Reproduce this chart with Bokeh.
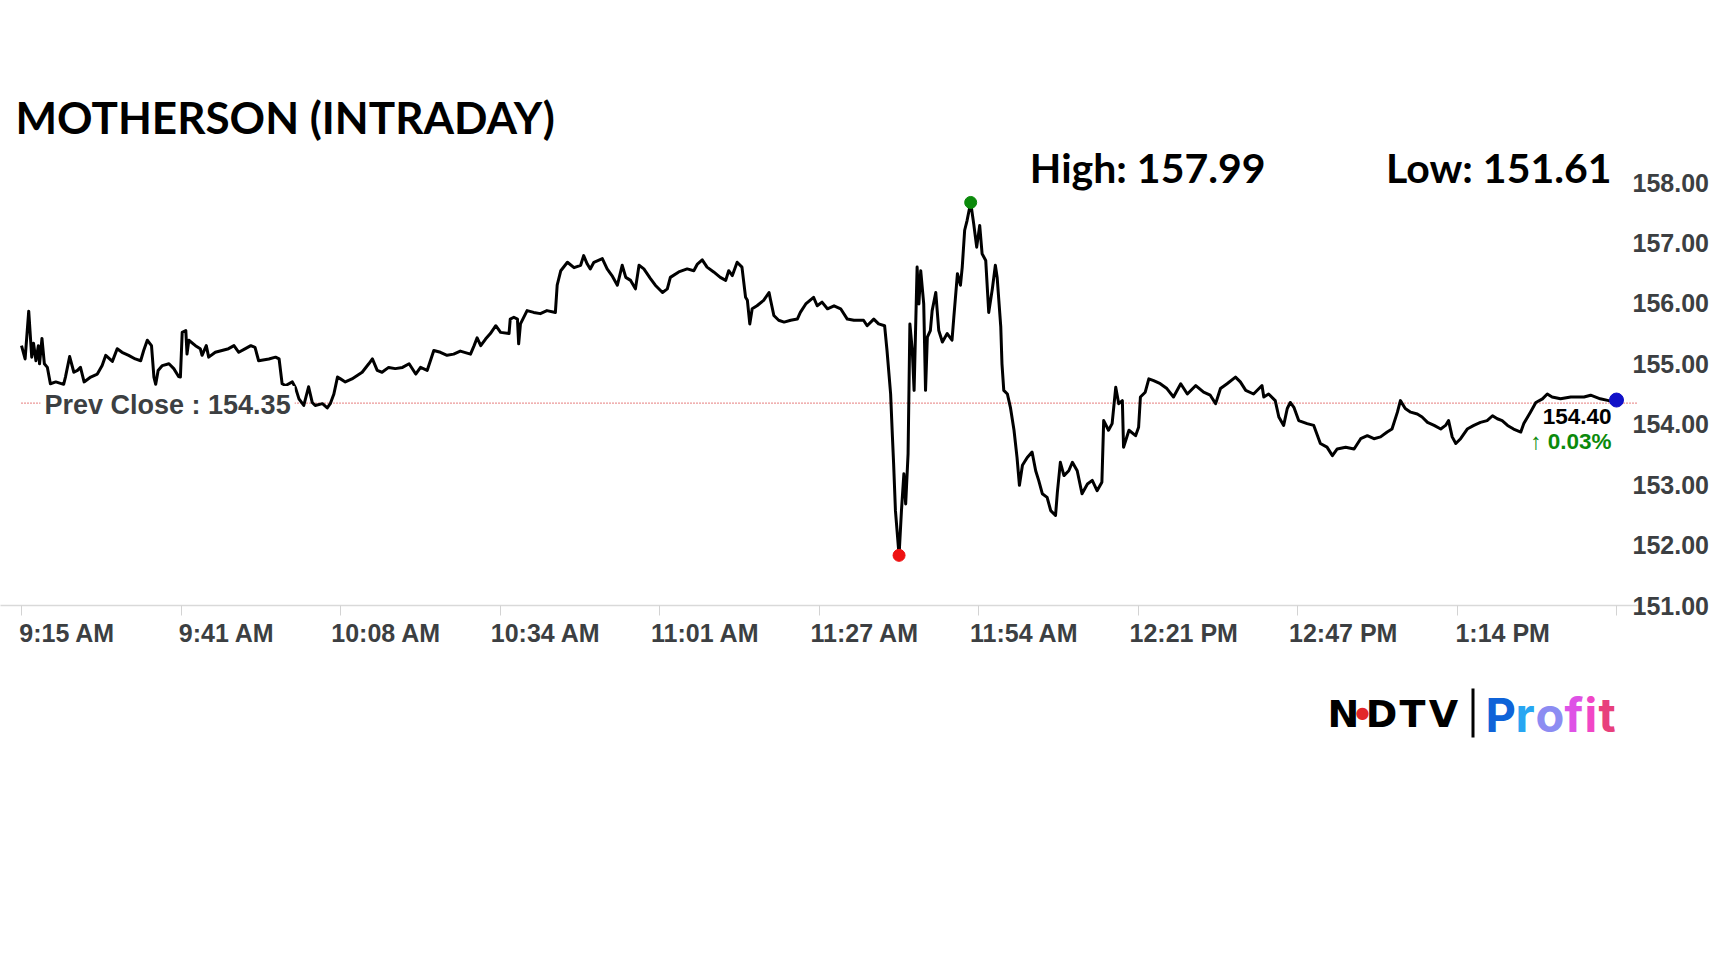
import numpy as np
from bokeh.plotting import figure
from bokeh.layouts import column
from bokeh.models import (Range1d, FixedTicker, NumeralTickFormatter, CustomJSTickFormatter,
                          Label, LinearAxis, BoxAnnotation)
from bokeh.embed import file_html
from bokeh.resources import INLINE

# ---------------- data ----------------
title_text = "MOTHERSON (INTRADAY)"
day_high = 157.99
day_low = 151.61
prev_close = 154.35
last_price = 154.40
change_pct = 0.03

# minutes after 9:15 AM
minutes = [
    0.0, 0.6, 1.2, 1.7, 2.0, 2.4, 2.8, 3.0, 3.4, 3.8,
    4.3, 4.8, 5.7, 7.0, 7.3, 8.0, 8.7, 9.3, 9.8, 10.4,
    11.5, 12.6, 13.4, 14.0, 15.1, 15.9, 16.7, 17.8, 18.9, 19.8,
    20.3, 20.9, 21.6, 22.0, 22.3, 22.7, 23.4, 24.5, 25.3, 26.1,
    26.4, 26.7, 27.3, 27.5, 27.8, 28.9, 29.7, 30.0, 30.7, 31.1,
    32.2, 33.3, 34.4, 35.3, 36.1, 37.2, 38.1, 38.8, 39.4, 41.1,
    42.2, 42.8, 43.3, 43.9, 45.0, 45.5, 46.1, 46.9, 47.7, 48.3,
    48.8, 50.0, 50.8, 51.3, 51.9, 52.5, 53.0, 53.8, 54.9, 56.6,
    57.7, 58.3, 59.1, 59.9, 61.0, 62.1, 63.3, 64.4, 65.5, 66.3,
    67.4, 68.5, 69.6, 70.7, 71.8, 72.9, 74.6, 75.2, 75.7, 76.3,
    77.1, 77.9, 78.8, 79.6, 81.0, 81.2, 81.8, 82.4, 82.6, 82.9,
    84.0, 85.1, 86.2, 87.3, 88.7, 89.0, 89.6, 90.7, 91.8, 92.9,
    93.4, 94.0, 94.5, 95.1, 96.5, 97.3, 98.1, 99.0, 99.8, 100.4,
    101.2, 102.0, 102.6, 103.4, 104.5, 105.3, 106.5, 107.3, 107.8, 109.2,
    110.6, 111.7, 112.3, 113.1, 113.9, 115.0, 116.1, 117.0, 117.5, 118.1,
    118.9, 119.7, 120.3, 120.6, 121.0, 121.4, 122.2, 123.3, 124.2, 124.4,
    125.0, 125.8, 126.7, 127.8, 128.9, 129.4, 130.3, 131.6, 132.2, 133.0,
    133.9, 135.0, 136.1, 137.2, 138.3, 139.9, 140.5, 141.6, 142.4, 143.4,
    143.8, 144.4, 144.7, 144.9, 145.2, 145.8, 146.2, 146.6, 146.9, 147.3,
    147.6, 148.0, 148.3, 148.8, 149.1, 149.4, 149.9, 150.2, 150.5, 151.0,
    151.3, 151.9, 152.4, 153.0, 153.8, 154.6, 154.9, 155.5, 156.0, 156.3,
    156.7, 157.1, 157.7, 158.2, 158.7, 159.2, 159.6, 160.2, 160.7, 161.3,
    161.8, 162.1, 162.7, 162.9, 163.2, 163.8, 164.3, 164.9, 165.4, 165.8,
    166.3, 167.1, 167.9, 168.5, 169.0, 169.6, 170.4, 171.0, 171.8, 172.1,
    172.6, 173.2, 174.0, 174.6, 175.4, 176.2, 177.1, 177.9, 178.7, 179.5,
    179.8, 180.6, 181.2, 181.8, 182.3, 182.9, 183.1, 184.0, 185.1, 185.6,
    185.9, 186.7, 187.3, 188.1, 189.2, 190.3, 191.4, 192.6, 193.7, 195.1,
    196.4, 197.5, 198.4, 199.2,
    200.3, 201.7, 202.5, 203.4, 204.7, 206.1, 206.4, 207.2, 208.3, 208.9,
    209.7, 210.3, 210.8, 211.4, 212.2, 213.6, 214.7, 215.8, 216.9, 217.8,
    218.6, 220.0, 221.4, 222.5, 223.6, 224.7, 225.8, 226.9, 227.7, 228.6,
    229.1, 229.9, 230.8, 231.9, 232.7, 233.6, 234.7, 235.8, 236.6, 237.1,
    237.7, 238.3, 239.1, 240.2, 241.3, 242.4, 243.5, 244.4, 245.2, 246.0,
    246.9, 247.9, 249.1, 249.6, 250.7, 251.6, 252.7, 253.5, 254.3, 255.7,
    257.4, 259.6, 260.7, 262.3, 263.7, 265.0,
]

prices = [
    155.30, 155.08, 155.87, 155.11, 155.34, 155.05, 155.30, 155.00, 155.42, 155.00,
    154.94, 154.67, 154.70, 154.66, 154.78, 155.12, 154.86, 154.89, 154.94, 154.70,
    154.78, 154.83, 154.97, 155.14, 155.04, 155.25, 155.19, 155.14, 155.08, 155.05,
    155.22, 155.39, 155.30, 154.78, 154.66, 154.89, 154.97, 155.00, 154.92, 154.79,
    154.78, 155.52, 155.55, 155.16, 155.39, 155.30, 155.25, 155.14, 155.30, 155.11,
    155.19, 155.22, 155.25, 155.30, 155.19, 155.25, 155.30, 155.27, 155.05, 155.08,
    155.11, 155.08, 154.67, 154.64, 154.70, 154.61, 154.42, 154.31, 154.62, 154.36,
    154.31, 154.34, 154.27, 154.34, 154.50, 154.78, 154.75, 154.70, 154.75, 154.86,
    155.00, 155.08, 154.89, 154.86, 154.94, 154.92, 154.94, 155.00, 154.83, 154.94,
    154.89, 155.22, 155.19, 155.14, 155.16, 155.21, 155.16, 155.30, 155.43, 155.30,
    155.41, 155.50, 155.63, 155.52, 155.50, 155.74, 155.77, 155.74, 155.33, 155.66,
    155.88, 155.85, 155.83, 155.88, 155.85, 156.30, 156.54, 156.68, 156.59, 156.63,
    156.79, 156.65, 156.57, 156.68, 156.74, 156.57, 156.46, 156.30, 156.63, 156.43,
    156.38, 156.24, 156.63, 156.57, 156.41, 156.30, 156.18, 156.24, 156.43, 156.52,
    156.57, 156.54, 156.65, 156.72, 156.60, 156.52, 156.43, 156.38, 156.54, 156.46,
    156.68, 156.60, 156.10, 156.05, 155.66, 155.91, 155.96, 156.05, 156.18, 156.08,
    155.80, 155.72, 155.69, 155.72, 155.74, 155.85, 155.99, 156.10, 155.96, 156.02,
    155.91, 155.96, 155.91, 155.74, 155.72, 155.72, 155.63, 155.74, 155.66, 155.63,
    155.22, 154.50, 153.79, 153.34, 152.57, 151.83, 152.57, 153.18, 152.68, 153.51,
    155.66, 155.22, 154.56, 156.60, 155.99, 156.54, 155.99, 154.56, 155.44, 155.55,
    155.88, 156.18, 155.55, 155.36, 155.50, 155.39, 155.77, 156.49, 156.30, 156.60,
    157.21, 157.37, 157.67, 157.32, 156.93, 157.29, 156.82, 156.71, 155.85, 156.24,
    156.63, 156.43, 155.61, 155.00, 154.56, 154.50, 154.28, 153.90, 153.45, 152.99,
    153.32, 153.45, 153.54, 153.23, 153.07, 152.85, 152.79, 152.57, 152.49, 152.87,
    153.37, 153.15, 153.23, 153.37, 153.23, 152.85, 153.01, 153.07, 152.90, 153.04,
    154.06, 153.90, 154.01, 154.61, 154.34, 154.39, 153.62, 153.90, 153.81, 153.95,
    154.45, 154.53, 154.75, 154.72, 154.67, 154.59, 154.45, 154.67, 154.50, 154.64,
    154.53, 154.48, 154.34, 154.59,
    154.67, 154.78, 154.70, 154.56, 154.50, 154.64, 154.45, 154.50, 154.39, 154.12,
    153.98, 154.26, 154.36, 154.28, 154.06, 154.01, 153.98, 153.68, 153.62, 153.48,
    153.59, 153.62, 153.59, 153.76, 153.81, 153.76, 153.79, 153.87, 153.92, 154.20,
    154.39, 154.26, 154.20, 154.17, 154.12, 154.03, 153.98, 153.92, 153.98, 154.06,
    153.79, 153.68, 153.76, 153.92, 153.98, 154.03, 154.06, 154.14, 154.09, 154.06,
    153.98, 153.92, 153.87, 154.01, 154.20, 154.36, 154.42, 154.50, 154.45, 154.42,
    154.45, 154.45, 154.48, 154.42, 154.39, 154.40,
]

tick_minutes = [0, 26.5, 53, 79.5, 106, 132.5, 159, 185.5, 212, 238.5, 265]
tick_labels = ["9:15 AM", "9:41 AM", "10:08 AM", "10:34 AM", "11:01 AM",
               "11:27 AM", "11:54 AM", "12:21 PM", "12:47 PM", "1:14 PM"]
y_ticks = [151, 152, 153, 154, 155, 156, 157, 158]

# ---------------- layout (page pixels) ----------------
W = 1712
FR_R = 1637                  # frame right edge
X0_PX, X265_PX = 21, 1616    # page x of 9:15 and of the last tick
Y151_PX, Y158_PX = 605, 182  # page y of 151 and 158
MAIN_BOT = 55
FOOT_T = Y151_PX + MAIN_BOT
FOOT_H = 760 - FOOT_T
LABEL_SHIFT_PX = 45.7        # time labels sit to the right of their ticks

PPM = (X265_PX - X0_PX) / (tick_minutes[-1] - tick_minutes[0])
PPR = (Y151_PX - Y158_PX) / (y_ticks[-1] - y_ticks[0])
X_MIN = tick_minutes[0] - X0_PX / PPM
X_MAX = tick_minutes[0] + (FR_R - X0_PX) / PPM
Y_MIN = y_ticks[0]
Y_MAX = y_ticks[0] + Y151_PX / PPR

AX_COL = "#3c3f42"
ARIAL = "Liberation Sans"


def bare(fig):
    fig.outline_line_color = None
    fig.grid.visible = False
    fig.background_fill_color = "white"
    fig.border_fill_color = "white"


# ---------- main chart ----------
p = figure(width=W, height=FOOT_T, x_range=Range1d(X_MIN, X_MAX), y_range=Range1d(Y_MIN, Y_MAX),
           y_axis_location="right", toolbar_location=None, output_backend="svg",
           min_border_left=0, min_border_right=W - FR_R,
           min_border_top=0, min_border_bottom=MAIN_BOT)
bare(p)
shift = LABEL_SHIFT_PX / PPM
p.extra_x_ranges = {"px": Range1d(0, FR_R), "lab": Range1d(X_MIN - shift, X_MAX - shift)}
p.extra_y_ranges = {"py": Range1d(Y151_PX, 0)}

# axis 1: line + tick marks
p.xaxis.ticker = FixedTicker(ticks=tick_minutes)
p.xaxis.formatter = CustomJSTickFormatter(code="return ''")
p.xaxis.major_label_text_font_size = "1px"
p.xaxis.major_label_standoff = 0
p.xaxis.axis_line_color = "#d9d9d9"
p.xaxis.axis_line_width = 1.5
p.xaxis.major_tick_line_color = "#d3d3d3"
p.xaxis.major_tick_out = 10
p.xaxis.major_tick_in = 0
p.xaxis.minor_tick_line_color = None

# axis 2: the time labels (offset to the right of the ticks, as in the original)
lab_axis = LinearAxis(x_range_name="lab", ticker=FixedTicker(ticks=tick_minutes[:len(tick_labels)]),
                      major_label_overrides={t: s for t, s in zip(tick_minutes, tick_labels)},
                      axis_line_color=None, major_tick_line_color=None, minor_tick_line_color=None,
                      major_tick_out=0, major_tick_in=0, major_label_standoff=3,
                      major_label_text_font=ARIAL, major_label_text_font_style="bold",
                      major_label_text_font_size="25px", major_label_text_color=AX_COL)
p.add_layout(lab_axis, "below")

p.yaxis.ticker = FixedTicker(ticks=y_ticks)
p.yaxis.formatter = NumeralTickFormatter(format="0.00")
p.yaxis.axis_line_color = None
p.yaxis.major_tick_line_color = None
p.yaxis.minor_tick_line_color = None
p.yaxis.major_tick_out = 0
p.yaxis.major_tick_in = 0
p.yaxis.major_label_standoff = -5
p.yaxis.major_label_text_font = ARIAL
p.yaxis.major_label_text_font_style = "bold"
p.yaxis.major_label_text_font_size = "25px"
p.yaxis.major_label_text_color = AX_COL

# previous close dotted line
p.line([minutes[0], X_MAX], [prev_close, prev_close], line_color="#d63030",
       line_dash="1 2", line_width=1.2)

p.line(minutes, prices, line_color="black", line_width=3, line_join="round")

hi_i = int(np.argmax(prices))
lo_i = int(np.argmin(prices))
p.scatter([minutes[hi_i]], [prices[hi_i]], size=12, color="#0b8a0b")
p.scatter([minutes[lo_i]], [prices[lo_i]], size=12, color="#ee1111")
p.scatter([minutes[-1]], [prices[-1]], size=14, color="#1010c8")


def plabel(fig, x, y, text, **kw):
    fig.add_layout(Label(x=x, y=y, x_range_name="px", y_range_name="py", text=text, **kw))


plabel(p, 15, 116.5, title_text, text_font="Lato", text_font_style="bold",
       text_font_size="44px", text_color="black", text_align="left", text_baseline="middle")
plabel(p, 1265, 167, f"High: {day_high:.2f}", text_font="Lato", text_font_style="bold",
       text_font_size="41px", text_color="black", text_align="right", text_baseline="middle")
plabel(p, 1611, 167, f"Low: {day_low:.2f}", text_font="Lato", text_font_style="bold",
       text_font_size="41px", text_color="black", text_align="right", text_baseline="middle")
plabel(p, 40, 404.5, f"Prev Close : {prev_close:.2f}", text_font=ARIAL,
       text_font_style="bold", text_font_size="27px", text_color=AX_COL,
       text_align="left", text_baseline="middle", background_fill_color="white", padding=4)
plabel(p, 1613, 416, f"{last_price:.2f}", text_font=ARIAL,
       text_font_style="bold", text_font_size="22.5px", text_color="black",
       text_align="right", text_baseline="middle", background_fill_color="white", padding=2)
plabel(p, 1613, 441, f"\u2191 {change_pct:.2f}%", text_font=ARIAL,
       text_font_style="bold", text_font_size="22.5px", text_color="#0b8a0b",
       text_align="right", text_baseline="middle", background_fill_color="white", padding=2)

# ---------- footer (logo) ----------
foot = figure(width=W, height=FOOT_H, x_range=Range1d(0, FR_R), y_range=Range1d(FOOT_T + FOOT_H, FOOT_T),
              x_axis_location=None, y_axis_location=None, toolbar_location=None,
              output_backend="svg", min_border_left=0, min_border_right=W - FR_R,
              min_border_top=0, min_border_bottom=0)
bare(foot)
foot.extra_x_ranges = {"px": Range1d(0, FR_R)}
foot.extra_y_ranges = {"py": Range1d(FOOT_T + FOOT_H, FOOT_T)}

for ch, cx in zip(["N", "D", "T", "V"], [1343, 1381, 1412, 1443]):
    plabel(foot, cx, 713, ch, text_font="DejaVu Sans", text_font_style="bold",
           text_font_size="38px", text_color="black", text_align="center",
           text_baseline="middle")
plabel(foot, 1362, 712, "\u25cf", text_font="DejaVu Sans", text_font_size="16px",
       text_color="#e3262a", text_align="center", text_baseline="middle")
foot.add_layout(BoxAnnotation(left=1471, right=1474, top=688, bottom=737,
                              x_range_name="px", y_range_name="py",
                              fill_color="black", fill_alpha=1, line_color=None))
profit_letters = ["P", "r", "o", "f", "i", "t"]
profit_x = [1485, 1515, 1535, 1564, 1584, 1598]
profit_col = ["#0f63d8", "#27a6f2", "#8c8cf2", "#de52e6", "#f146c6", "#e8407c"]
for ch, lx, col in zip(profit_letters, profit_x, profit_col):
    plabel(foot, lx, 714, ch, text_font="Inter", text_font_style="bold",
           text_font_size="47px", text_color=col, text_align="left", text_baseline="middle")

layout = column(p, foot, spacing=0)
open("out.html", "w").write(file_html(layout, INLINE))
